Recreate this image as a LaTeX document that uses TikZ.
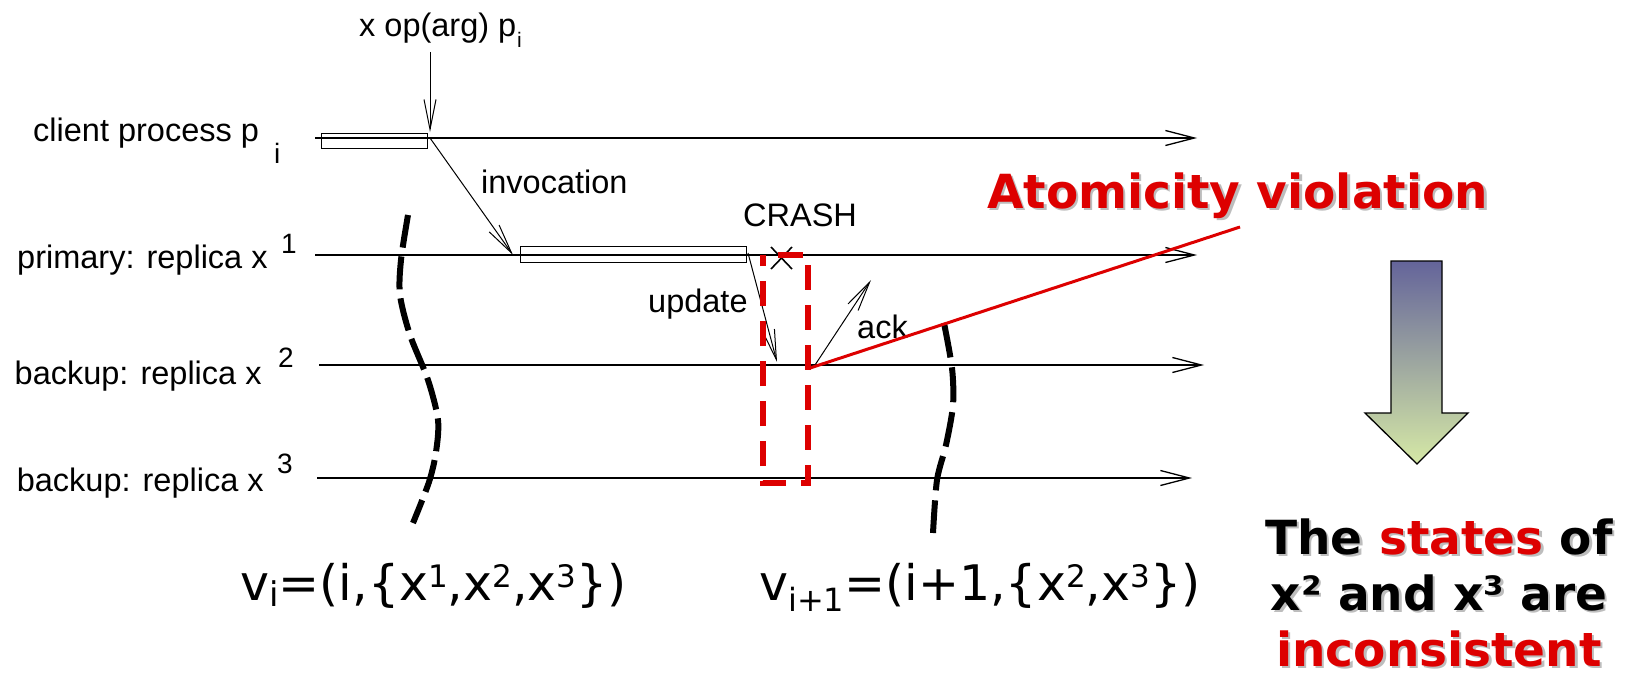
\documentclass[tikz,border=0pt]{standalone}
\usepackage{fontspec}
\setmainfont{Liberation Sans}
\newfontfamily\dvsans{DejaVu Sans}
\usetikzlibrary{arrows.meta}
\definecolor{crashred}{HTML}{DD0000}
\definecolor{shadowgray}{HTML}{BDBDBD}
\definecolor{arrtop}{HTML}{64649A}
\definecolor{arrbot}{HTML}{D6E9A6}
\newcommand{\rblockA}[2]{\textcolor{#1}{The} \textcolor{#2}{states} \textcolor{#1}{of}}
\newcommand{\rblockB}[1]{\textcolor{#1}{x² and x³ are}}
\newcommand{\rblockC}[1]{\textcolor{#1}{inconsistent}}
\newcommand{\vsup}[1]{\raisebox{13pt}{\fontsize{31}{33}\selectfont #1}}
\newcommand{\vsubA}[1]{\raisebox{-6pt}{\fontsize{34}{36}\selectfont #1}}
\newcommand{\vsubB}[1]{\raisebox{-11pt}{\fontsize{32}{34}\selectfont #1}}
\begin{document}
\begin{tikzpicture}[x=1pt,y=-1pt,
  lbl/.style={anchor=base west, inner sep=0pt, font=\fontsize{32.5}{39}\selectfont},
  idx/.style={anchor=base west, inner sep=0pt, font=\fontsize{28}{33}\selectfont},
  timeline/.style={line width=1.3pt, -{Straight Barb[length=29pt,width=15pt,line width=1.3pt]}},
  msg/.style={line width=1pt, -{Straight Barb[length=30pt,width=12pt,line width=1pt]}},
  actbox/.style={draw, line width=1.2pt},
  cutline/.style={line width=6pt, dash pattern=on 33pt off 9pt},
  crashbox/.style={draw=crashred, line width=6pt, dash pattern=on 25pt off 15pt, dash phase=25pt},
  bigtext/.style={anchor=base west, inner sep=0pt, font=\dvsans\fontsize{49}{58}\selectfont},
  boldtext/.style={inner sep=0pt, font=\dvsans\bfseries\fontsize{47}{56}\selectfont},
]
\useasboundingbox (0,0) rectangle (1625,677);

% coordinates of timelines
\coordinate (c0) at (315,138);  \coordinate (c1) at (1197,138);
\coordinate (p0) at (315,255);  \coordinate (p1) at (1197,255);
\coordinate (b0) at (319,365);  \coordinate (b1) at (1204,365);
\coordinate (d0) at (317,478);  \coordinate (d1) at (1192,478);

% activity boxes
\node[actbox, minimum width=106pt, minimum height=15pt, inner sep=0pt, anchor=north west] (cbox) at (321,133) {};
\node[actbox, minimum width=226pt, minimum height=16pt, inner sep=0pt, anchor=north west] (pbox) at (520,246) {};

% timelines
\draw[timeline] (c0) -- (c1);
\draw[timeline] (p0) -- (p1);
\draw[timeline] (b0) -- (b1);
\draw[timeline] (d0) -- (d1);

% labels
\node[lbl] (lc) at (33,141) {client process p};
\node[idx] (lci) at (274,163) {i};
\node[lbl] (lp) at (17,268) {primary: replica x};
\node[idx] (lp1) at (281,253) {1};
\node[lbl] (lb2) at (14.5,384) {backup: replica x};
\node[idx] (lb2s) at (278,367) {2};
\node[lbl] (lb3) at (16.6,491) {backup: replica x};
\node[idx] (lb3s) at (277,473) {3};

% operation arrow
\node[lbl] (op) at (359,37) {x op(arg) p};
\node[anchor=base west, inner sep=0pt, font=\fontsize{21}{25}\selectfont] (opi) at (517,48) {i};
\coordinate (op0) at (430,52);
\coordinate (op1) at (430,132);
\draw[msg] (op0) -- (op1);

% messages
\coordinate (inv0) at (430,138); \coordinate (inv1) at (513,255);
\draw[msg] (inv0) -- (inv1);
\node[lbl] (linv) at (481,193) {invocation};

\coordinate (up0) at (748,253); \coordinate (up1) at (777,362);
\draw[msg] (up0) -- (up1);
\node[lbl] (lup) at (648,312) {update};

\coordinate (ack0) at (815,365); \coordinate (ack1) at (871,280);
\draw[msg] (ack0) -- (ack1);
\node[lbl] (lack) at (857,338) {ack};

% crash
\node[lbl] (lcrash) at (743,226) {CRASH};
\draw[line width=1.6pt] (771,247) -- (792,269) (771,269) -- (792,247);

% crash box
\draw[crashbox] (763,255) -- (808,255) -- (808,483) -- (763,483) -- cycle;

% cut lines
\draw[cutline] plot[smooth] coordinates {(408,215) (401,260) (400,295) (410,335) (428,380) (438,420) (436,452) (429,482) (413,523)};
\draw[cutline, dash pattern=on 35pt off 10pt] plot[smooth] coordinates {(944,323) (952,368) (953,405) (946,445) (937,480) (933,533)};

% red line
\coordinate (r0) at (810,368); \coordinate (r1) at (1240,227);
\draw[crashred, line width=3pt] (r0) -- (r1);

% views
\node[bigtext] (vi) at (240,600) {v\vsubA{i}=(i,\{x\vsup{1},x\vsup{2},x\vsup{3}\})};
\node[bigtext] (vi1) at (759,600) {v\vsubB{i+1}=(i+1,\{x\vsup{2},x\vsup{3}\})};

% atomicity violation
\node[boldtext, anchor=base west, text=shadowgray] (atoms) at (989.5,210.5) {Atomicity violation};
\node[boldtext, anchor=base west, text=crashred] (atom) at (987,208) {Atomicity violation};

% block arrow
\shadedraw[top color=arrtop, bottom color=arrbot, draw=black, line width=1.3pt]
  (1391,261) -- (1442,261) -- (1442,413) -- (1468,413) -- (1417,464) -- (1365,413) -- (1391,413) -- cycle;

% conclusion
\node[boldtext, anchor=base] (rA s) at (1441.5,556) {\rblockA{shadowgray}{shadowgray}};
\node[boldtext, anchor=base] (rA) at (1439,554) {\rblockA{black}{crashred}};
\node[boldtext, anchor=base] (rB s) at (1441.5,612) {\rblockB{shadowgray}};
\node[boldtext, anchor=base] (rB) at (1439,610) {\rblockB{black}};
\node[boldtext, anchor=base] (rC s) at (1441.5,668) {\rblockC{shadowgray}};
\node[boldtext, anchor=base] (rC) at (1439,666) {\rblockC{crashred}};
\end{tikzpicture}
\end{document}
